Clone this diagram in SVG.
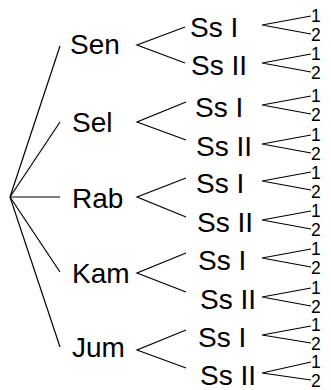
<svg xmlns="http://www.w3.org/2000/svg" width="331" height="390" viewBox="0 0 331 390">
<style>
.t{font-family:"Liberation Sans",Arial,sans-serif;font-size:28px;fill:#000}
.n{font-family:"Liberation Sans",Arial,sans-serif;font-size:17.5px;fill:#000}
.c line,.c polyline{stroke:#000;stroke-width:1.2;fill:none}
</style>
<rect width="331" height="390" fill="#fff"/>
<g class="c" id="connectors">
<line x1="10" y1="197" x2="60" y2="46"/>
<line x1="10" y1="197" x2="60" y2="122"/>
<line x1="10" y1="197" x2="60" y2="197"/>
<line x1="10" y1="197" x2="60" y2="272"/>
<line x1="10" y1="197" x2="60" y2="347"/>
<polyline points="185,27 137,45 185,63"/>
<polyline points="186,102 137,122 186,140"/>
<polyline points="186,178 137,197 186,217"/>
<polyline points="186,253 137,273 186,292"/>
<polyline points="186,330 137,350 186,368"/>
<polyline points="311,16 262,25 311,34"/>
<polyline points="311,54 262,63 311,72"/>
<polyline points="311,96 262,105 311,114"/>
<polyline points="311,135 262,144 311,153"/>
<polyline points="311,172 262,181 311,190"/>
<polyline points="311,211 262,220 311,229"/>
<polyline points="311,249 262,258 311,267"/>
<polyline points="311,288 262,297 311,306"/>
<polyline points="311,326 262,335 311,343"/>
<polyline points="311,362 262,373 311,380"/>
</g>
<g id="sen"><text class="t" x="70" y="54">Sen</text></g>
<g id="sel"><text class="t" x="72" y="132">Sel</text></g>
<g id="rab"><text class="t" x="72" y="208">Rab</text></g>
<g id="kam"><text class="t" x="72" y="283">Kam</text></g>
<g id="jum"><text class="t" x="72" y="357">Jum</text></g>
<g id="sen-ss1"><text class="t" x="190" y="37">Ss I</text><text class="n" x="311" y="22">1</text><text class="n" x="311" y="40.5">2</text></g>
<g id="sen-ss2"><text class="t" x="191" y="75">Ss II</text><text class="n" x="311" y="60">1</text><text class="n" x="311" y="78.5">2</text></g>
<g id="sel-ss1"><text class="t" x="195" y="117">Ss I</text><text class="n" x="311" y="102">1</text><text class="n" x="311" y="120.5">2</text></g>
<g id="sel-ss2"><text class="t" x="196" y="156">Ss II</text><text class="n" x="311" y="141">1</text><text class="n" x="311" y="159.5">2</text></g>
<g id="rab-ss1"><text class="t" x="196" y="193">Ss I</text><text class="n" x="311" y="179">1</text><text class="n" x="311" y="197.5">2</text></g>
<g id="rab-ss2"><text class="t" x="197" y="232">Ss II</text><text class="n" x="311" y="217">1</text><text class="n" x="311" y="235.5">2</text></g>
<g id="kam-ss1"><text class="t" x="198" y="270">Ss I</text><text class="n" x="311" y="255">1</text><text class="n" x="311" y="273.5">2</text></g>
<g id="kam-ss2"><text class="t" x="200" y="309">Ss II</text><text class="n" x="311" y="294">1</text><text class="n" x="311" y="312.5">2</text></g>
<g id="jum-ss1"><text class="t" x="198" y="347">Ss I</text><text class="n" x="311" y="331">1</text><text class="n" x="311" y="349.5">2</text></g>
<g id="jum-ss2"><text class="t" x="200" y="385">Ss II</text><text class="n" x="311" y="368">1</text><text class="n" x="311" y="386.5">2</text></g>
</svg>
